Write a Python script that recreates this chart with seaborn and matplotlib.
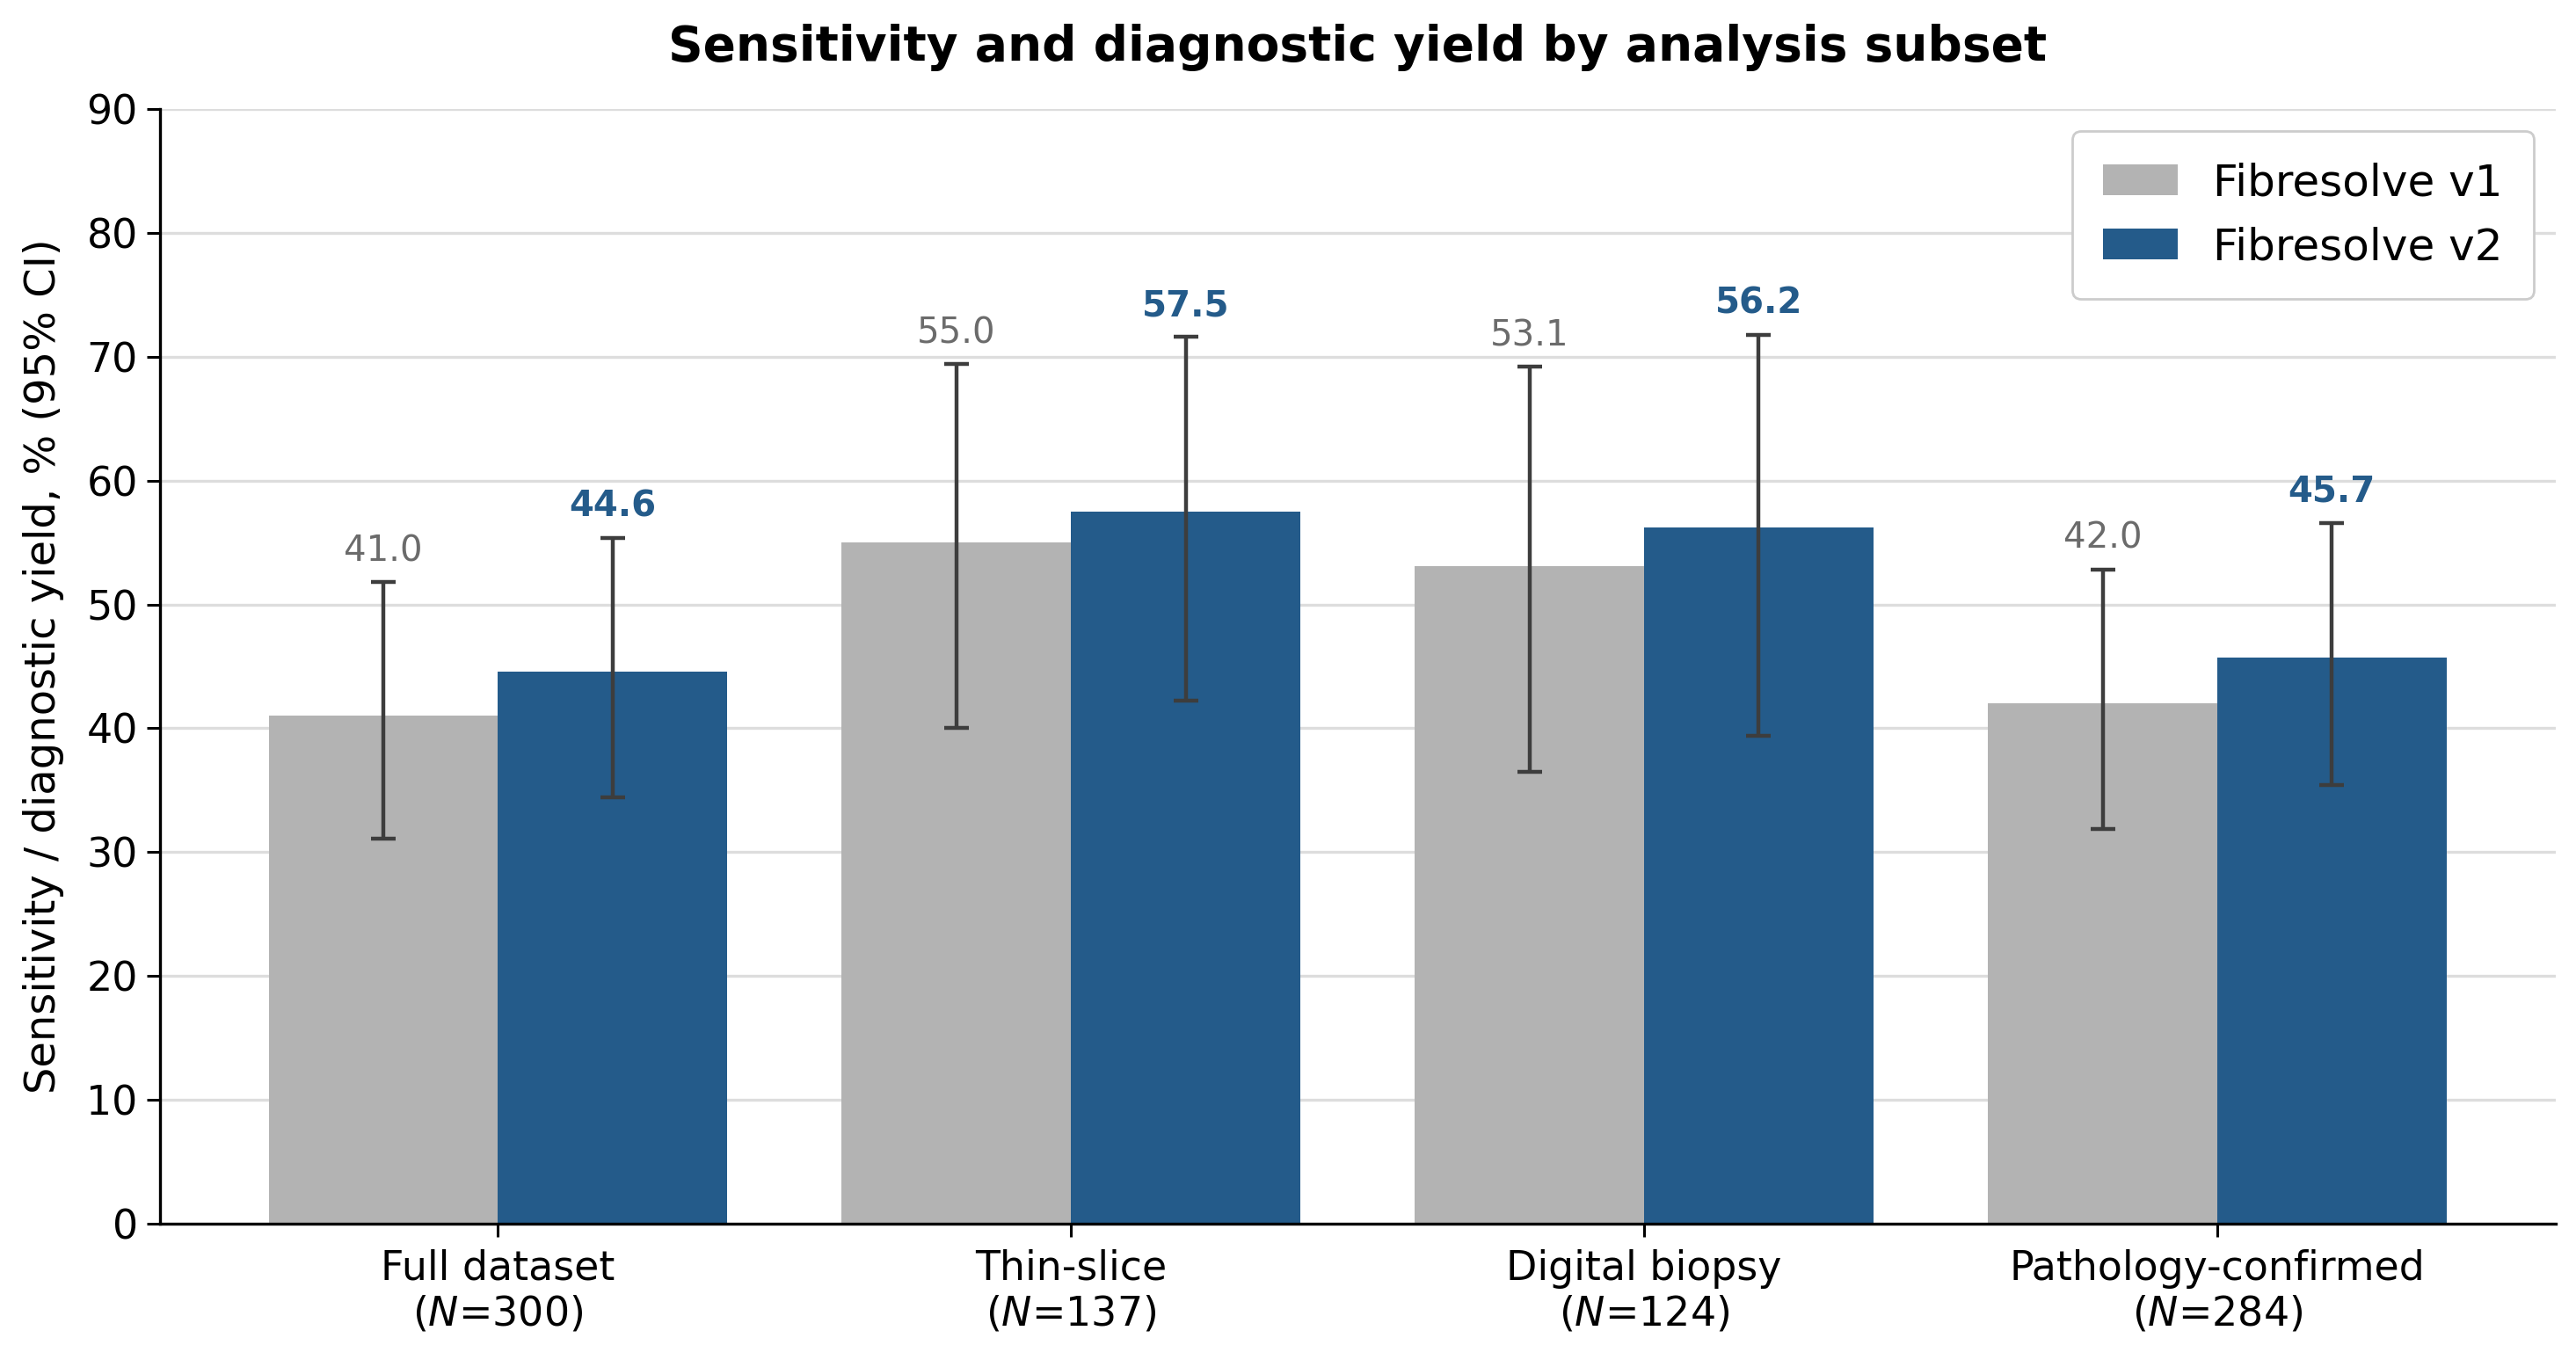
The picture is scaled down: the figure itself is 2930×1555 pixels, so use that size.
import numpy as np
import pandas as pd
import matplotlib
matplotlib.use("Agg")
import matplotlib.pyplot as plt
import seaborn as sns

# values
subsets = ["Full dataset", "Thin-slice", "Digital biopsy", "Pathology-confirmed"]
n_counts = [300, 137, 124, 284]
models = ["Fibresolve v1", "Fibresolve v2"]

v1_value = [41.0, 55.0, 53.1, 42.0]
v1_low = [31.1, 40.0, 36.5, 31.9]
v1_high = [51.8, 69.4, 69.2, 52.8]

v2_value = [44.6, 57.5, 56.2, 45.7]
v2_low = [34.4, 42.2, 39.4, 35.4]
v2_high = [55.4, 71.6, 71.8, 56.6]

bar_colors = ["#b3b3b3", "#245b8a"]
label_colors = ["#6b6b6b", "#245b8a"]

tick_labels = [f"{s}\n($N$={n})" for s, n in zip(subsets, n_counts)]

df = pd.DataFrame({
    "Subset": tick_labels * 2,
    "Model": [models[0]] * 4 + [models[1]] * 4,
    "Value": v1_value + v2_value,
    "Low": v1_low + v2_low,
    "High": v1_high + v2_high,
})

sns.set_theme(style="white")
plt.rcParams["font.family"] = ["DejaVu Sans"]
plt.rcParams["text.color"] = "black"
plt.rcParams["axes.labelcolor"] = "black"
plt.rcParams["xtick.color"] = "black"
plt.rcParams["ytick.color"] = "black"

fig, ax = plt.subplots(figsize=(14.65, 7.775), dpi=200)

sns.barplot(data=df, x="Subset", y="Value", hue="Model", palette=bar_colors,
            errorbar=None, width=0.8, saturation=1, linewidth=0, ax=ax, zorder=2)

# error bars and value labels, placed on the drawn bars
for i, model in enumerate(models):
    sub = df[df["Model"] == model]
    container = ax.containers[i]
    for patch, (_, row) in zip(container.patches, sub.iterrows()):
        xc = patch.get_x() + patch.get_width() / 2
        ax.errorbar(xc, row["Value"],
                    yerr=[[row["Value"] - row["Low"]], [row["High"] - row["Value"]]],
                    fmt="none", ecolor="#3d3d3d", elinewidth=1.6, capsize=5,
                    capthick=1.6, zorder=3)
        ax.annotate(f"{row['Value']:.1f}", (xc, row["High"]),
                    xytext=(0, 5.5), textcoords="offset points",
                    ha="center", va="bottom", fontsize=14.5,
                    color=label_colors[i],
                    fontweight="bold" if i == 1 else "normal")

ax.set_ylim(0, 90)
ax.set_yticks(range(0, 91, 10))
ax.set_xlim(-0.59, 3.59)
ax.yaxis.grid(True, color="#dddddd", linewidth=1.2, zorder=0)
ax.set_axisbelow(True)
sns.despine(ax=ax)
for side in ["left", "bottom"]:
    ax.spines[side].set_color("black")
    ax.spines[side].set_linewidth(1.2)
ax.tick_params(axis="both", which="major", labelsize=16.5, length=5.5, width=1.1,
               color="black", bottom=True, left=True)
ax.tick_params(axis="x", pad=5)

ax.set_xlabel("")
ax.set_ylabel("Sensitivity / diagnostic yield, % (95% CI)", fontsize=17.3,
              labelpad=9)
ax.set_title("Sensitivity and diagnostic yield by analysis subset",
             fontsize=19.8, fontweight="bold", pad=20)

ax.legend(loc="upper right", fontsize=18, frameon=True, framealpha=1,
          edgecolor="#cccccc", borderpad=0.7, handlelength=1.7,
          borderaxespad=0.5)

fig.subplots_adjust(left=0.062, right=0.992, top=0.92, bottom=0.105)
fig.savefig("out.png", dpi=200)
